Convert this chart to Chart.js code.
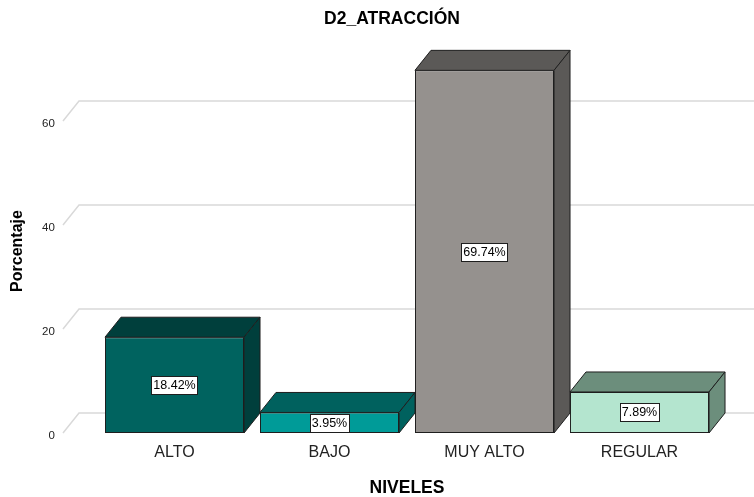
<!DOCTYPE html>
<html><head><meta charset="utf-8">
<script src="https://cdn.jsdelivr.net/npm/chart.js@4"></script>
<style>html,body{margin:0;padding:0;background:#fff}#wrap{width:754px;height:497px}</style>
</head><body><div id="wrap"><canvas id="c" width="754" height="497"></canvas></div>
<script>
const categories = ['ALTO', 'BAJO', 'MUY ALTO', 'REGULAR'];
const percentages = [18.42, 3.95, 69.74, 7.89];
const valueLabels = ['18.42%', '3.95%', '69.74%', '7.89%'];
const yTicks = [0, 20, 40, 60];
const frontColors = ['#00635f', '#009b98', '#95918e', '#b4e5cf'];
const shadeColors = ['#003f3c', '#00615e', '#5b5957', '#6c8e7c'];

const DX = 16, DY = -20;
Chart.defaults.font.family = "'Liberation Sans', Arial, sans-serif";

function poly(ctx, pts, fill) {
  ctx.beginPath();
  ctx.moveTo(pts[0][0], pts[0][1]);
  for (let i = 1; i < pts.length; i++) ctx.lineTo(pts[i][0], pts[i][1]);
  ctx.closePath();
  ctx.fillStyle = fill;
  ctx.fill();
  ctx.stroke();
}

const bar3d = {
  id: 'bar3d',
  beforeDatasetsDraw(chart) {
    const ctx = chart.ctx, ys = chart.scales.y, area = chart.chartArea;
    ctx.save();
    ctx.strokeStyle = '#d9d9d9';
    ctx.lineWidth = 1.5;
    const x0 = area.left - 34;
    yTicks.forEach(v => {
      const py = ys.getPixelForValue(v);
      ctx.beginPath();
      ctx.moveTo(x0, py);
      ctx.lineTo(x0 + DX, py + DY);
      ctx.lineTo(chart.width, py + DY);
      ctx.stroke();
    });
    ctx.restore();
  },
  afterDatasetsDraw(chart) {
    const ctx = chart.ctx;
    const meta = chart.getDatasetMeta(0);
    ctx.save();
    ctx.strokeStyle = '#1e1e1e';
    ctx.lineWidth = 1;
    ctx.lineJoin = 'miter';
    meta.data.forEach((bar, i) => {
      const p = bar.getProps(['x', 'y', 'base', 'width'], true);
      const l = p.x - p.width / 2, r = p.x + p.width / 2, t = p.y, b = p.base;
      poly(ctx, [[l, t], [l + DX, t + DY], [r + DX, t + DY], [r, t]], shadeColors[i]);
      poly(ctx, [[r, t], [r + DX, t + DY], [r + DX, b + DY], [r, b]], shadeColors[i]);
    });
    ctx.font = "12.5px 'Liberation Sans', Arial, sans-serif";
    ctx.textAlign = 'center';
    ctx.textBaseline = 'middle';
    meta.data.forEach((bar, i) => {
      const p = bar.getProps(['x', 'y', 'base'], true);
      const cy = (p.y + p.base) / 2;
      const w = ctx.measureText(valueLabels[i]).width + 4;
      const h = 18;
      ctx.fillStyle = '#ffffff';
      ctx.fillRect(Math.round(p.x - w / 2) + 0.5, Math.round(cy - h / 2) + 0.5, Math.round(w), h);
      ctx.strokeStyle = '#1e1e1e';
      ctx.strokeRect(Math.round(p.x - w / 2) + 0.5, Math.round(cy - h / 2) + 0.5, Math.round(w), h);
      ctx.fillStyle = '#000';
      ctx.fillText(valueLabels[i], p.x, cy + 0.5);
    });
    ctx.restore();
  }
};

new Chart(document.getElementById('c'), {
  type: 'bar',
  data: {
    labels: categories,
    datasets: [{
      data: percentages,
      backgroundColor: frontColors,
      borderColor: '#1e1e1e',
      borderWidth: 1,
      borderSkipped: false,
      barPercentage: 0.897,
      categoryPercentage: 1
    }]
  },
  options: {
    responsive: false,
    animation: false,
    devicePixelRatio: 1,
    layout: { padding: { left: 67, right: 37, top: 0, bottom: 0 } },
    plugins: {
      legend: { display: false },
      tooltip: { enabled: false },
      title: {
        display: true,
        text: 'D2_ATRACCIÓN',
        color: '#000',
        font: { size: 17.5, weight: 'bold' },
        padding: { top: 9, bottom: 39 }
      }
    },
    scales: {
      x: {
        grid: { display: false },
        border: { display: false },
        ticks: { color: '#222', font: { size: 16 }, padding: 2 },
        title: {
          display: true,
          text: 'NIVELES',
          color: '#000',
          font: { size: 17.5, weight: 'bold' },
          padding: { top: 0, bottom: -1.5 }
        },
        afterFit(s) { s.height = 64; }
      },
      y: {
        min: 0,
        max: 70,
        grid: { display: false },
        border: { display: false },
        ticks: {
          stepSize: 20, color: '#222', font: { size: 11.5 },
          mirror: true, crossAlign: 'far', padding: -55, labelOffset: 2.5
        },
        afterBuildTicks(s) { s.ticks = yTicks.map(v => ({ value: v })); },
        title: {
          display: true,
          text: 'Porcentaje',
          color: '#000',
          font: { size: 16, weight: 'bold' },
          padding: { top: -58.6, bottom: 0 }
        },
        afterFit(s) { s.width = 30; }
      }
    }
  },
  plugins: [bar3d]
});
</script>
</body></html>
